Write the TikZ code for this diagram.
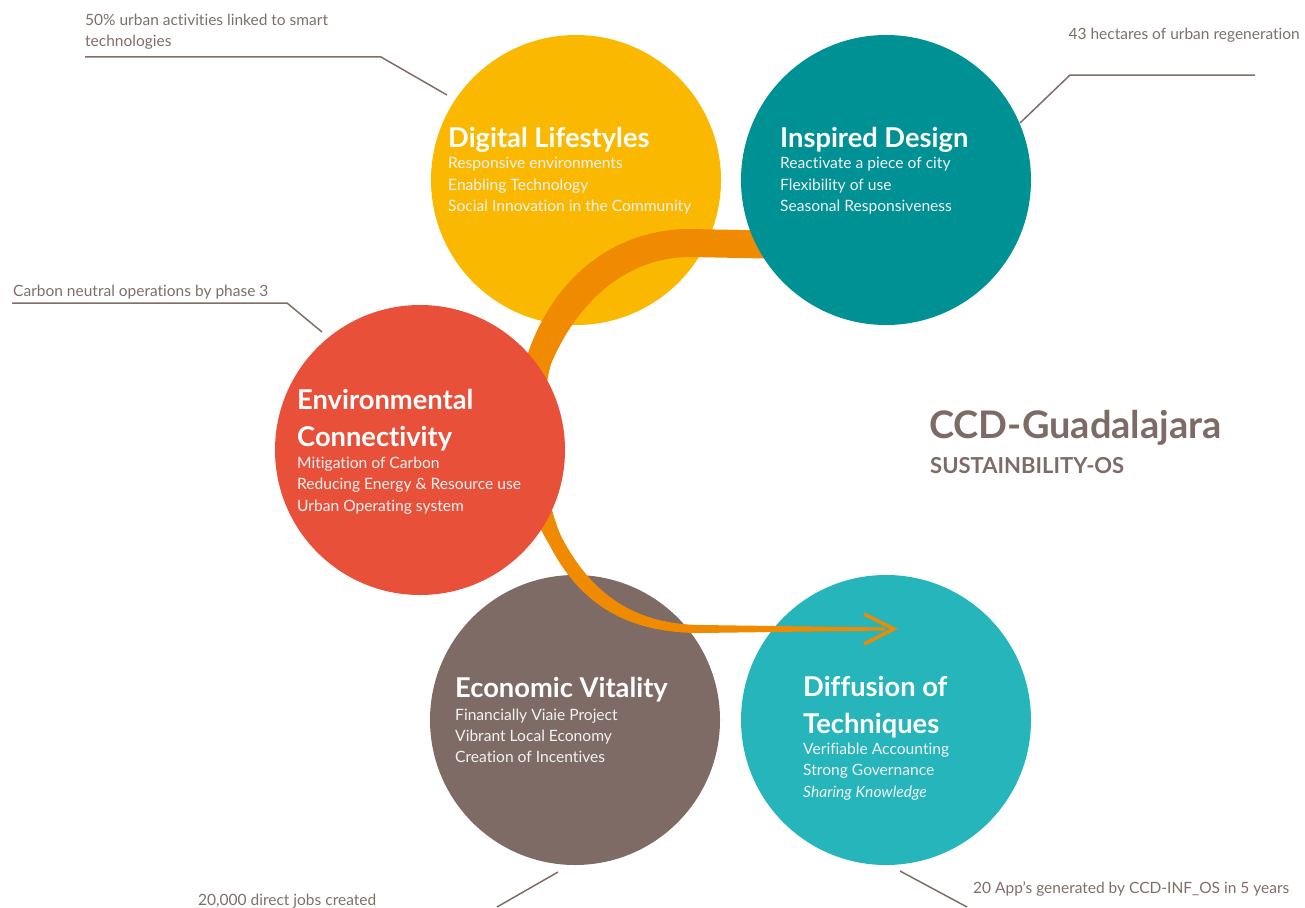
\documentclass[tikz,border=0pt]{standalone}
\usepackage{fontspec}
\setmainfont{Lato}[Ligatures={NoCommon}]
\definecolor{cyellow}{HTML}{FAB900}
\definecolor{cteal}{HTML}{009194}
\definecolor{cred}{HTML}{E8503A}
\definecolor{cbrown}{HTML}{7E6B65}
\definecolor{ccyan}{HTML}{26B5BA}
\definecolor{corange}{HTML}{F08A00}
\definecolor{cgrey}{HTML}{7F6E68}
\begin{document}
\begin{tikzpicture}[x=1pt,y=-1pt,
  disc/.style={circle,inner sep=0pt,minimum size=290pt,draw=none},
  ctitle/.style={anchor=base west,inner sep=0pt,text=white,font=\fontsize{27.3}{29}\selectfont\bfseries},
  cline/.style={anchor=base west,inner sep=0pt,text=white!95!black,font=\fontsize{15.6}{17}\selectfont},
  note/.style={anchor=base west,inner sep=0pt,text=cgrey,font=\fontsize{15.5}{17}\selectfont},
  leader/.style={draw=cgrey,line width=1.5pt},
  band/.style={fill=corange,draw=none}]
\useasboundingbox (0,0) rectangle (1305,907);
% circles behind the band
\node[disc,fill=cyellow] (dl) at (576,180) {};
\node[disc,fill=cbrown] (ev) at (575,720) {};
\node[disc,fill=ccyan] (dt) at (886,720) {};
% orange band
\path[band] (790,231) -- (690,229) .. controls (612,229) and (552,280) .. (527,356)
  .. controls (512,410) and (518,495) .. (549,544)
  .. controls (580,605) and (628,633) .. (700,633) -- (885,630.5)
  -- (885,627.5) -- (700,625) .. controls (636,624) and (592,596) .. (561,536)
  .. controls (540,488) and (538,412) .. (551,364)
  .. controls (578,300) and (628,257) .. (690,257) -- (790,259) -- cycle;
\coordinate (ahA) at (864,614);
\coordinate (ahT) at (894,629);
\coordinate (ahB) at (864,644);
\draw[corange,line width=3.5pt,line join=miter] (ahA) -- (ahT) -- (ahB);
% circles above the band
\node[disc,fill=cteal] (id) at (886,180) {};
\node[disc,fill=cred] (ec) at (420,450) {};
% circle texts
\node[ctitle] (dlt) at (448,147) {Digital Lifestyles};
\node[cline] (dl1) at (448,168.5) {Responsive environments};
\node[cline] (dl2) at (448,190) {Enabling Technology};
\node[cline] (dl3) at (448,211.5) {Social Innovation in the Community};
\node[ctitle] (idt) at (780,147) {Inspired Design};
\node[cline] (id1) at (780,168.5) {Reactivate a piece of city};
\node[cline] (id2) at (780,190) {Flexibility of use};
\node[cline] (id3) at (780,211.5) {Seasonal Responsiveness};
\node[ctitle] (ect1) at (297,409.5) {Environmental};
\node[ctitle] (ect2) at (297,446) {Connectivity};
\node[cline] (ec1) at (297,468) {Mitigation of Carbon};
\node[cline] (ec2) at (297,489.5) {Reducing Energy \& Resource use};
\node[cline] (ec3) at (297,511) {Urban Operating system};
\node[ctitle] (evt) at (455,697) {Economic Vitality};
\node[cline] (ev1) at (455,720.5) {Financially Viaie Project};
\node[cline] (ev2) at (455,741.5) {Vibrant Local Economy};
\node[cline] (ev3) at (455,762.5) {Creation of Incentives};
\node[ctitle] (dtt1) at (803,696) {Diffusion of};
\node[ctitle] (dtt2) at (803,733) {Techniques};
\node[cline] (dt1) at (803,754) {Verifiable Accounting};
\node[cline] (dt2) at (803,775.5) {Strong Governance};
\node[cline] (dt3) at (803,797) {\itshape Sharing Knowledge};
% heading
\node[anchor=base west,inner sep=0pt,text=cbrown,font=\fontsize{38}{40}\selectfont\bfseries] (hd) at (929,438) {CCD-Guadalajara};
\node[anchor=base west,inner sep=0pt,text=cbrown,font=\fontsize{22}{24}\selectfont\bfseries] (sub) at (930,473) {SUSTAINBILITY-OS};
% notes
\node[note] (n1a) at (85,26) {50\% urban activities linked to smart};
\node[note] (n1b) at (85,47) {technologies};
\coordinate (l1a) at (85,57);
\coordinate (l1b) at (381,57);
\coordinate (l1c) at (447,95);
\draw[leader] (l1a) -- (l1b) -- (l1c);
\node[note,anchor=base east] (n2) at (1300,40) {43 hectares of urban regeneration};
\coordinate (l2a) at (1255,75);
\coordinate (l2b) at (1070,75);
\coordinate (l2c) at (1020,123);
\draw[leader] (l2a) -- (l2b) -- (l2c);
\node[note] (n3) at (13,296.5) {Carbon neutral operations by phase 3};
\coordinate (l3a) at (12,303);
\coordinate (l3b) at (287,303);
\coordinate (l3c) at (322,332);
\draw[leader] (l3a) -- (l3b) -- (l3c);
\node[note] (n4) at (198,905) {20,000 direct jobs created};
\coordinate (l4a) at (558,872);
\coordinate (l4b) at (497,907);
\draw[leader] (l4a) -- (l4b);
\node[note] (n5) at (973,893) {20 App's generated by CCD-INF\_OS in 5 years};
\coordinate (l5a) at (900,871);
\coordinate (l5b) at (967,907);
\draw[leader] (l5a) -- (l5b);
\end{tikzpicture}
\end{document}
